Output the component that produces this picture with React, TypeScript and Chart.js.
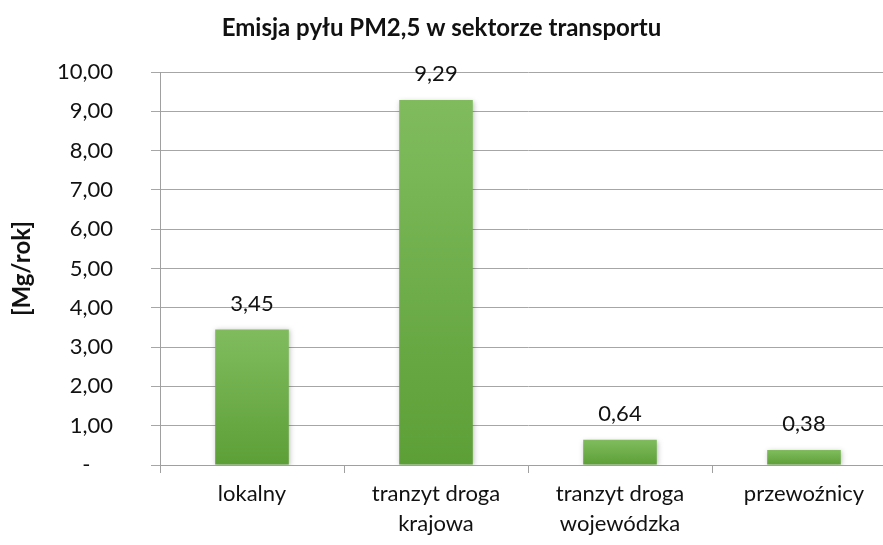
import React, { useEffect, useRef } from "react";
import { Chart, registerables } from "chart.js";

Chart.register(...registerables);

const TITLE = "Emisja pyłu PM2,5 w sektorze transportu";
const Y_TITLE = "[Mg/rok]";
const categories: (string | string[])[] = [
  "lokalny",
  ["tranzyt droga", "krajowa"],
  ["tranzyt droga", "wojewódzka"],
  "przewoźnicy",
];
const values = [3.45, 9.29, 0.64, 0.38];
const yMin = 0;
const yMax = 10;
const yStep = 1;

const FONT = "Lato, 'Open Sans', sans-serif";

const fmt = (v: number) => (v === 0 ? "-    " : v.toFixed(2).replace(".", ","));

export default function App() {
  const ref = useRef<HTMLCanvasElement | null>(null);
  useEffect(() => {
    if (!ref.current) return;
    const titlePlugin = {
      id: "customTitle",
      afterDraw(chart: any) {
        const c = chart.ctx;
        c.save();
        c.font = `bold 24px ${FONT}`;
        c.fillStyle = "#111";
        c.textAlign = "center";
        c.textBaseline = "middle";
        c.fillText(TITLE, 441.5, 28);
        c.restore();
      },
    };
    const labelPlugin = {
      id: "valueLabels",
      afterDatasetsDraw(chart: any) {
        const c = chart.ctx;
        const meta = chart.getDatasetMeta(0);
        c.save();
        c.font = `22px ${FONT}`;
        c.fillStyle = "#111";
        c.textAlign = "center";
        c.textBaseline = "middle";
        meta.data.forEach((el: any, i: number) => {
          c.fillText(fmt(values[i]), el.x, el.y - 26);
        });
        c.restore();
      },
    };
    const shadowPlugin = {
      id: "barShadow",
      beforeDatasetDraw(chart: any) {
        const c = chart.ctx;
        c.save();
        c.shadowColor = "rgba(0,0,0,0.25)";
        c.shadowBlur = 5;
        c.shadowOffsetX = 1;
        c.shadowOffsetY = 1;
      },
      afterDatasetDraw(chart: any) {
        chart.ctx.restore();
      },
    };
    const chart = new Chart(ref.current, {
      type: "bar",
      data: {
        labels: categories,
        datasets: [
          {
            data: values,
            backgroundColor: (ctx: any) => {
              const ch = ctx.chart;
              const ys = ch.scales?.y;
              if (!ys || ctx.raw == null) return "#6cae47";
              const top = ys.getPixelForValue(ctx.raw);
              const bot = ys.getPixelForValue(0);
              if (!isFinite(top) || !isFinite(bot) || bot - top < 1) return "#6cae47";
              const g = ch.ctx.createLinearGradient(0, top, 0, bot);
              g.addColorStop(0, "#80bc5e");
              g.addColorStop(1, "#5d9f37");
              return g;
            },
            borderWidth: 0,
            barPercentage: 0.4,
            categoryPercentage: 1,
          },
        ],
      },
      options: {
        animation: false,
        responsive: true,
        maintainAspectRatio: false,
        layout: { padding: { top: 72, right: 4, left: 0, bottom: 0 } },
        plugins: {
          legend: { display: false },
          title: { display: false },
          tooltip: { enabled: false },
        },
        scales: {
          x: {
            grid: {
              display: true,
              drawOnChartArea: false,
              drawTicks: true,
              tickLength: 8,
              color: "#a0a0a0",
              offset: true,
            },
            border: { display: true, color: "#a0a0a0" },
            ticks: {
              font: { family: FONT, size: 22, lineHeight: 1.35 },
              color: "#111",
              padding: 6,
              maxRotation: 0,
              autoSkip: false,
            },
            afterFit(scale: any) {
              scale.height = 80;
            },
          },
          y: {
            min: yMin,
            max: yMax,
            grid: {
              color: "#a6a6a6",
              drawTicks: true,
              tickLength: 9,
            },
            border: { display: true, color: "#a0a0a0" },
            ticks: {
              stepSize: yStep,
              font: { family: FONT, size: 22 },
              color: "#111",
              padding: 38,
              callback: (v: any) => fmt(Number(v)),
            },
            title: {
              display: true,
              text: Y_TITLE,
              font: { family: FONT, size: 24, weight: "bold" },
              color: "#111",
              padding: { top: 8, bottom: 0 },
            },
            afterFit(scale: any) {
              scale.width = 160;
            },
          },
        },
      },
      plugins: [titlePlugin, labelPlugin, shadowPlugin],
    } as any);
    return () => chart.destroy();
  }, []);
  return (
    <div
      style={{
        position: "fixed",
        left: 0,
        top: 0,
        width: 900,
        height: 545,
        background: "#fff",
      }}
    >
      <canvas ref={ref} />
    </div>
  );
}
